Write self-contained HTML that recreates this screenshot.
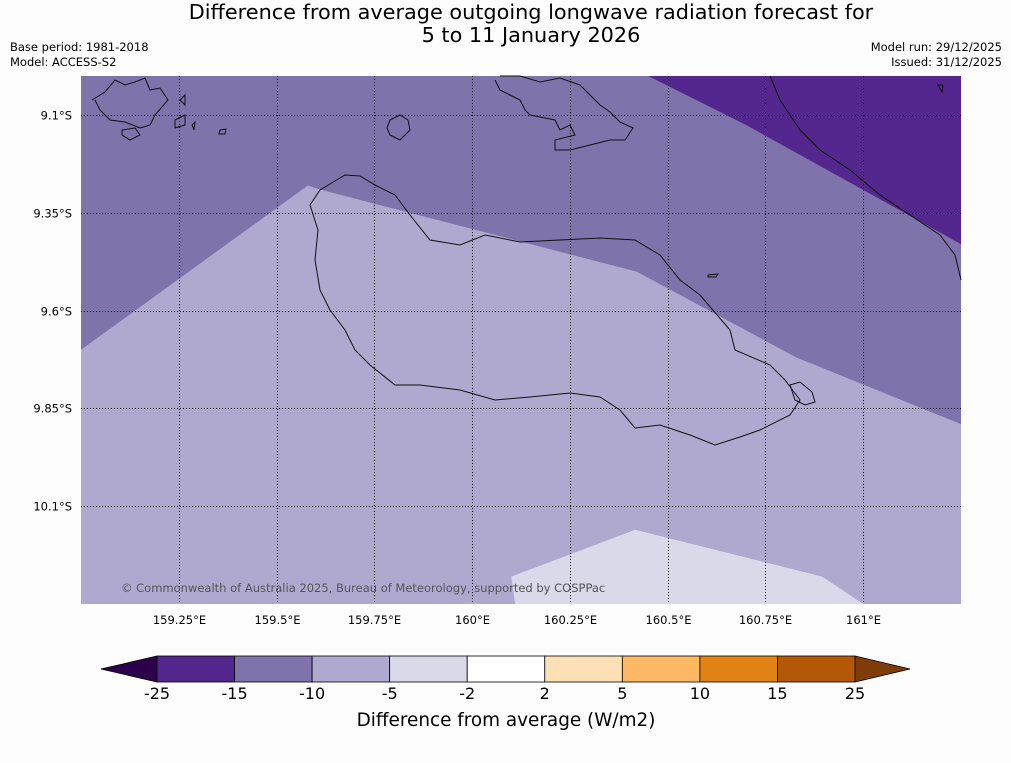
<!DOCTYPE html>
<html><head><meta charset="utf-8"><style>
body{margin:0;background:#fdfdfd;font-family:"Liberation Sans",sans-serif;}
svg text{font-family:"DejaVu Sans","Liberation Sans",sans-serif;}
</style></head><body>
<svg id="chart" width="1011" height="758" xmlns="http://www.w3.org/2000/svg">
<rect width="1011" height="758" fill="#fdfdfd"/>
<text x="531" y="19" font-size="20.8" text-anchor="middle">Difference from average outgoing longwave radiation forecast for</text>
<text x="531" y="42" font-size="20.8" text-anchor="middle">5 to 11 January 2026</text>
<text x="10" y="51" font-size="11.5">Base period: 1981-2018</text>
<text x="10" y="66" font-size="11.5">Model: ACCESS-S2</text>
<text x="1002" y="51" font-size="11.5" text-anchor="end">Model run: 29/12/2025</text>
<text x="1002" y="66" font-size="11.5" text-anchor="end">Issued: 31/12/2025</text>
<g id="map"></g>
<g id="cbar"></g>
</svg>
<script>
const lonTicks=[159.25,159.5,159.75,160,160.25,160.5,160.75,161];
const latTicks=[9.1,9.35,9.6,9.85,10.1];
const levels=[-25,-15,-10,-5,-2,2,5,10,15,25];
const levelColors=["#54278f","#7f73ab","#afa9cf","#d9d9e9","#ffffff","#fee0b6","#fdb863","#e08214","#b35806"];
const lowColor="#2d004b", highColor="#7f3b08";
// contour regions as [lon, lat(°S)]
const regionDark=[[160.45,9.0],[160.70,9.125],[161.25,9.43],[161.25,9.0]];
const regionLight=[[159.0,9.70],[159.58,9.28],[159.61,9.29],[160.42,9.50],[160.83,9.72],[161.25,9.89],[161.25,10.35],[159.0,10.35]];
const regionLightest=[[160.10,10.28],[160.11,10.35],[161.0,10.35],[160.895,10.28],[160.417,10.16]];

const X0=81,X1=961,Y0=76,Y1=604,LON0=159,LON1=161.25,LAT0=9.0,LAT1=10.35;
const xs=l=>X0+(l-LON0)/(LON1-LON0)*(X1-X0);
const ys=l=>Y0+(l-LAT0)/(LAT1-LAT0)*(Y1-Y0);
const NS="http://www.w3.org/2000/svg";
const map=document.getElementById('map');
function mk(tag,attrs,parent){const e=document.createElementNS(NS,tag);for(const k in attrs)e.setAttribute(k,attrs[k]);parent.appendChild(e);return e;}
let e=mk('rect',{x:X0,y:Y0,width:X1-X0,height:Y1-Y0,fill:"#7f73ab"},map);


function poly(pts,fill,name){const p=mk('polygon',{points:pts.map(q=>xs(q[0])+','+ys(q[1])).join(' '),fill:fill},map);

}
poly(regionDark,"#54278f",'region-minus15-to-minus25');
poly(regionLight,"#afa9cf",'region-minus5-to-minus10');
poly(regionLightest,"#d9d9e9",'region-minus2-to-minus5');
const coast=mk('g',{fill:"none",stroke:"#111",'stroke-width':"1"},map);


["M320,190 L345,175 360,176 375,185 395,195 410,215 430,240 460,245 485,235 520,242 560,240 600,238 635,240 660,255 680,280 700,295 730,330 735,350 770,365 785,380 800,400 790,415 760,430 740,437 715,445 690,435 660,425 635,428 620,410 600,397 570,393 530,397 495,400 460,390 420,385 395,385 370,365 355,350 345,330 330,310 320,290 315,260 318,230 310,205 Z",
"M92,100 L105,92 115,80 125,85 135,82 145,78 150,90 160,88 168,100 155,115 150,125 140,128 125,122 110,120 100,110 95,100",
"M122,130 L135,128 140,135 130,140 122,135 Z","M180,100 L185,95 185,105 Z","M175,120 L185,115 185,125 175,128 Z",
"M192,125 L195,122 194,130 Z","M220,130 L226,129 225,134 219,134 Z","M390,120 L400,115 408,120 410,130 400,140 390,135 387,128 Z",
"M495,80 L500,90 510,95 520,100 525,110 530,115 545,118 555,120 560,130 570,125 575,135 555,140 555,150 570,150 590,145 610,140 625,140 633,128 620,122 610,112 600,105 590,95 580,85 560,78 540,82 520,76 500,76",
"M770,76 L780,100 800,130 820,150 850,170 880,195 910,215 940,235 955,255 961,280",
"M708,275 L718,274 716,277 708,277 Z","M790,385 L800,382 812,392 815,402 805,405 795,400 Z","M938,85 L943,85 942,92 Z"].forEach((d,i)=>{
const p=mk('path',{d:d},coast);

});
const grid=mk('g',{stroke:"#000",'stroke-width':"1",'stroke-dasharray':"1,2"},map);


lonTicks.forEach(l=>{const x=Math.round(xs(l))+0.5;mk('line',{x1:x,x2:x,y1:Y0,y2:Y1},grid);
const t=mk('text',{x:x,y:624,'font-size':"11.5",'text-anchor':"middle",stroke:"none"},map);t.textContent=l+"°E";

});
latTicks.forEach(l=>{const y=Math.round(ys(l))+0.5;mk('line',{x1:X0,x2:X1,y1:y,y2:y},grid);
const t=mk('text',{x:72,y:y+4,'font-size':"11.5",'text-anchor':"end"},map);t.textContent=l+"°S";

});
const cp=mk('text',{x:121,y:592,'font-size':"11.5",fill:"#555"},map);cp.textContent="© Commonwealth of Australia 2025, Bureau of Meteorology, supported by COSPPac";


const cb=document.getElementById('cbar');const CX0=157,CX1=855,CY=656,CH=26;const sw=(CX1-CX0)/levelColors.length;
let lt=mk('polygon',{points:`${CX0},${CY} ${CX0},${CY+CH} 101,${CY+CH/2}`,fill:lowColor,stroke:"#000",'stroke-width':"0.8"},cb);


let ht=mk('polygon',{points:`${CX1},${CY} ${CX1},${CY+CH} 910,${CY+CH/2}`,fill:highColor,stroke:"#000",'stroke-width':"0.8"},cb);


levelColors.forEach((c,i)=>{const r=mk('rect',{x:CX0+i*sw,y:CY,width:sw,height:CH,fill:c,stroke:"#000",'stroke-width':"0.8"},cb);

});
levels.forEach((v,i)=>{const t=mk('text',{x:CX0+i*sw,y:699,'font-size':"16",'text-anchor':"middle"},cb);t.textContent=v;

});
const ct=mk('text',{x:506,y:726,'font-size':"18.4",'text-anchor':"middle"},cb);ct.textContent="Difference from average (W/m2)";


</script>
</body></html>
